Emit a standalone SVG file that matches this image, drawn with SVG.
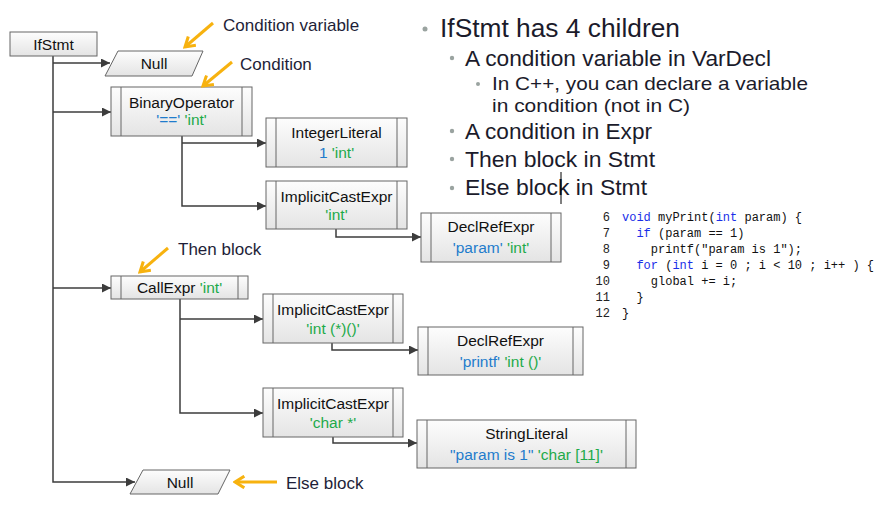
<svg xmlns="http://www.w3.org/2000/svg" width="882" height="505" viewBox="0 0 882 505">
<defs>
  <linearGradient id="g" x1="0" y1="0" x2="0" y2="1">
    <stop offset="0" stop-color="#fdfdfd"/>
    <stop offset="1" stop-color="#e4e4e4"/>
  </linearGradient>
  <marker id="ah" viewBox="0 0 10 10" refX="10" refY="5" markerWidth="9" markerHeight="9" markerUnits="userSpaceOnUse" orient="auto">
    <path d="M0,0 L10,5 L0,10 Z" fill="#3c3c3c"/>
  </marker>
  <marker id="oa" viewBox="0 0 12 12" refX="10" refY="6" markerWidth="14" markerHeight="14" markerUnits="userSpaceOnUse" orient="auto">
    <path d="M2,1 L10,6 L2,11" fill="none" stroke="#F7B20F" stroke-width="2.6" stroke-linejoin="miter"/>
  </marker>
  <style>
    .box{fill:url(#g);stroke:#666;stroke-width:1}
    .in{stroke:#666;stroke-width:1;fill:none}
    .nt{font-family:"Liberation Sans",Arial,sans-serif;font-size:15.5px;fill:#111;text-anchor:middle}
    .bl{fill:#1f7ccc}
    .gr{fill:#1eaa4a}
    .con{fill:none;stroke:#3c3c3c;stroke-width:1.5}
    .oar{fill:none;stroke:#F7B20F;stroke-width:3}
    .lab{font-family:"Liberation Sans",Arial,sans-serif;font-size:17px;fill:#1e1e38}
    .bt{font-family:"Liberation Sans",Arial,sans-serif;fill:#1b1b2b}
    .bul{fill:#9aa3a0}
    .code{font-family:"Liberation Mono","Courier New",monospace;font-size:12px;fill:#111}
    .kw{fill:#1a2ee8}
    .ln{font-family:"Liberation Mono","Courier New",monospace;font-size:12px;fill:#222;text-anchor:end}
  </style>
</defs>
<rect width="882" height="505" fill="#fff"/>

<g id="connectors">
  <path class="con" d="M53,56 V482 H135" marker-end="url(#ah)"/>
  <path class="con" d="M53,63 H110" marker-end="url(#ah)"/>
  <path class="con" d="M53,112 H111" marker-end="url(#ah)"/>
  <path class="con" d="M53,288 H111" marker-end="url(#ah)"/>
  <path class="con" d="M182,136 V206 H266" marker-end="url(#ah)"/>
  <path class="con" d="M182,143 H266" marker-end="url(#ah)"/>
  <path class="con" d="M336,229 V237 H421" marker-end="url(#ah)"/>
  <path class="con" d="M180,299 V413 H263" marker-end="url(#ah)"/>
  <path class="con" d="M180,319 H263" marker-end="url(#ah)"/>
  <path class="con" d="M332,343 V350 H418" marker-end="url(#ah)"/>
  <path class="con" d="M333,437 V443 H417" marker-end="url(#ah)"/>
</g>

<g id="ifstmt">
  <rect class="box" x="10" y="32" width="87" height="24"/>
  <text class="nt" x="53.5" y="50">IfStmt</text>
</g>

<g id="null-condvar">
  <path class="box" d="M118,51 H203 L192,76 H105 Z"/>
  <text class="nt" x="154" y="69">Null</text>
</g>

<g id="binaryoperator">
  <rect class="box" x="111" y="87" width="141" height="49"/>
  <path class="in" d="M121,87 V136 M242,87 V136"/>
  <text class="nt" x="181.5" y="108">BinaryOperator</text>
  <text class="nt" x="181.5" y="125"><tspan class="bl">'=='</tspan> <tspan class="gr">'int'</tspan></text>
</g>

<g id="integerliteral">
  <rect class="box" x="266" y="118" width="141" height="49"/>
  <path class="in" d="M276,118 V167 M397,118 V167"/>
  <text class="nt" x="336.5" y="138">IntegerLiteral</text>
  <text class="nt" x="336.5" y="158"><tspan class="bl">1</tspan> <tspan class="gr">'int'</tspan></text>
</g>

<g id="implicitcast1">
  <rect class="box" x="266" y="181" width="141" height="48"/>
  <path class="in" d="M276,181 V229 M397,181 V229"/>
  <text class="nt" x="336.5" y="202">ImplicitCastExpr</text>
  <text class="nt gr" x="336.5" y="220">'int'</text>
</g>

<g id="declref1">
  <rect class="box" x="421" y="213" width="140" height="49"/>
  <path class="in" d="M431,213 V262 M551,213 V262"/>
  <text class="nt" x="491" y="232">DeclRefExpr</text>
  <text class="nt" x="491" y="253"><tspan class="bl">'param'</tspan> <tspan class="gr">'int'</tspan></text>
</g>

<g id="callexpr">
  <rect class="box" x="111" y="276" width="137" height="23"/>
  <path class="in" d="M121,276 V299 M238,276 V299"/>
  <text class="nt" x="179.5" y="293">CallExpr <tspan class="gr">'int'</tspan></text>
</g>

<g id="implicitcast2">
  <rect class="box" x="263" y="294" width="140" height="49"/>
  <path class="in" d="M273,294 V343 M393,294 V343"/>
  <text class="nt" x="333" y="315">ImplicitCastExpr</text>
  <text class="nt gr" x="333" y="334">'int (*)()'</text>
</g>

<g id="declref2">
  <rect class="box" x="418" y="327" width="165" height="48"/>
  <path class="in" d="M428,327 V375 M573,327 V375"/>
  <text class="nt" x="500.5" y="346">DeclRefExpr</text>
  <text class="nt" x="500.5" y="367"><tspan class="bl">'printf'</tspan> <tspan class="gr">'int ()'</tspan></text>
</g>

<g id="implicitcast3">
  <rect class="box" x="263" y="388" width="140" height="49"/>
  <path class="in" d="M273,388 V437 M393,388 V437"/>
  <text class="nt" x="333" y="409">ImplicitCastExpr</text>
  <text class="nt gr" x="333" y="428">'char *'</text>
</g>

<g id="stringliteral">
  <rect class="box" x="417" y="420" width="219" height="48"/>
  <path class="in" d="M427,420 V468 M626,420 V468"/>
  <text class="nt" x="526.5" y="439">StringLiteral</text>
  <text class="nt" x="526.5" y="460"><tspan class="bl">"param is 1"</tspan> <tspan class="gr">'char [11]'</tspan></text>
</g>

<g id="null-else">
  <path class="box" d="M143,470 H230 L218,494 H130 Z"/>
  <text class="nt" x="180" y="488">Null</text>
</g>

<g id="annotations">
  <path class="oar" d="M213,23 L185,47" marker-end="url(#oa)"/>
  <text class="lab" x="223" y="31">Condition variable</text>
  <path class="oar" d="M232,62 L203,86" marker-end="url(#oa)"/>
  <text class="lab" x="240" y="70">Condition</text>
  <path class="oar" d="M168,248 L140,272" marker-end="url(#oa)"/>
  <text class="lab" x="178" y="255">Then block</text>
  <path class="oar" d="M277,482 L235,482" marker-end="url(#oa)"/>
  <text class="lab" x="286" y="489">Else block</text>
</g>

<g id="bullets">
  <circle class="bul" cx="425" cy="29" r="2.5"/>
  <text class="bt" x="440" y="37" font-size="26" textLength="240" lengthAdjust="spacingAndGlyphs">IfStmt has 4 children</text>
  <circle class="bul" cx="452" cy="58" r="2.2"/>
  <text class="bt" x="465" y="66" font-size="22" textLength="306" lengthAdjust="spacingAndGlyphs">A condition variable in VarDecl</text>
  <circle class="bul" cx="478" cy="84" r="2"/>
  <text class="bt" x="492" y="90" font-size="19" textLength="316" lengthAdjust="spacingAndGlyphs">In C++, you can declare a variable</text>
  <text class="bt" x="492" y="111.5" font-size="19" textLength="198" lengthAdjust="spacingAndGlyphs">in condition (not in C)</text>
  <circle class="bul" cx="452" cy="131" r="2.2"/>
  <text class="bt" x="465" y="139" font-size="22" textLength="187" lengthAdjust="spacingAndGlyphs">A condition in Expr</text>
  <circle class="bul" cx="452" cy="159" r="2.2"/>
  <text class="bt" x="465" y="167" font-size="22" textLength="190" lengthAdjust="spacingAndGlyphs">Then block in Stmt</text>
  <circle class="bul" cx="452" cy="188" r="2.2"/>
  <text class="bt" x="465" y="195" font-size="22" textLength="182" lengthAdjust="spacingAndGlyphs">Else block in Stmt</text>
  <line x1="561" y1="172" x2="561" y2="204" stroke="#000" stroke-width="1"/>
</g>

<g id="code">
  <text class="ln" x="610" y="221">6</text>
  <text class="ln" x="610" y="237">7</text>
  <text class="ln" x="610" y="253">8</text>
  <text class="ln" x="610" y="269">9</text>
  <text class="ln" x="610" y="285">10</text>
  <text class="ln" x="610" y="301">11</text>
  <text class="ln" x="610" y="317">12</text>
  <text class="code" x="622" y="221" xml:space="preserve"><tspan class="kw">void</tspan> myPrint(<tspan class="kw">int</tspan> param) {</text>
  <text class="code" x="636.4" y="237" xml:space="preserve"><tspan class="kw">if</tspan> (param == 1)</text>
  <text class="code" x="650.8" y="253" xml:space="preserve">printf("param is 1");</text>
  <text class="code" x="636.4" y="269" xml:space="preserve"><tspan class="kw">for</tspan> (<tspan class="kw">int</tspan> i = 0 ; i &lt; 10 ; i++ ) {</text>
  <text class="code" x="650.8" y="285" xml:space="preserve">global += i;</text>
  <text class="code" x="636.4" y="301">}</text>
  <text class="code" x="622" y="317">}</text>
</g>
</svg>
